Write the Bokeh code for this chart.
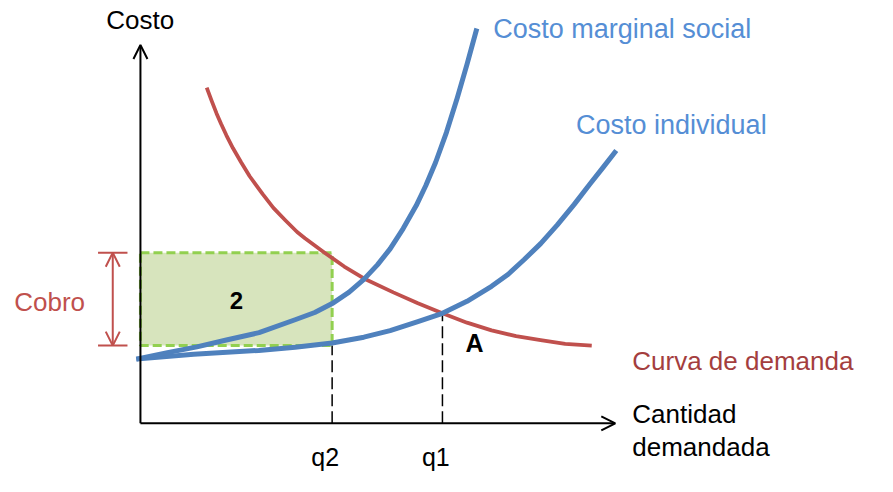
from bokeh.plotting import figure
from bokeh.models import Range1d, Arrow, OpenHead
from bokeh.core.properties import value
from bokeh.embed import file_html
from bokeh.resources import INLINE

# ---- data (units: 0..100 on each axis) ----
demand_q = [13.96, 15.00, 16.03, 17.00, 18.10, 19.50, 21.20, 23.00, 25.75, 28.00,
            30.51, 33.00, 34.64, 38.78, 42.92, 47.05, 53.26, 58.43, 63.60, 68.77,
            73.94, 79.11, 84.28, 89.45, 95.04]
demand_c = [88.75, 85.21, 81.92, 79.11, 76.12, 72.69, 68.99, 65.30, 60.57, 56.93,
            53.67, 50.56, 48.92, 45.10, 41.43, 38.29, 34.60, 31.71, 29.08, 26.60,
            24.55, 23.02, 21.99, 20.97, 20.54]

indiv_q = [-0.87, 11.21, 24.92, 32.57, 40.37, 47.05, 52.58, 58.43, 63.60, 68.77,
           73.94, 77.46, 80.77, 84.28, 87.80, 91.31, 94.62, 97.52, 100.21]
indiv_c = [16.96, 18.24, 19.26, 20.08, 21.23, 22.76, 24.50, 26.85, 29.08, 32.23,
           36.20, 39.39, 43.22, 47.50, 52.43, 57.80, 63.17, 67.77, 72.12]

social_q = [-0.87, 5.69, 11.89, 18.10, 24.98, 32.57, 36.71, 40.37, 43.95, 47.05,
            49.95, 52.58, 55.33, 58.08, 60.08, 62.15, 64.43, 66.70, 68.77, 70.84]
social_c = [16.96, 18.67, 20.20, 22.00, 23.96, 27.37, 29.28, 31.64, 34.65, 38.03,
            41.94, 46.11, 51.48, 57.54, 62.79, 68.93, 76.85, 85.93, 94.88, 104.35]

q2 = 40.37
q1 = 63.60
cost_q1 = 29.08
charge_low = 20.54
charge_high = 45.09
axis_max = 100

FONT = "Liberation Sans"
BLUE = "#4F81BD"
BLUE_TXT = "#558ED5"
RED = "#C0504D"
RED_TXT = "#A43E3E"

p = figure(width=877, height=476, output_backend="svg", toolbar_location=None,
           x_range=Range1d(-29.47, 155.22), y_range=Range1d(-14.07, 111.76),
           x_axis_type=None, y_axis_type=None, min_border=0,
           outline_line_color=None, background_fill_color="white",
           border_fill_color="white")
p.grid.visible = False

# shaded charge rectangle
p.quad(left=[0], right=[q2], bottom=[charge_low], top=[charge_high],
       fill_color="#D7E4BD", line_color="#92D050", line_width=3,
       line_dash="9 4")

# dashed quantity markers
p.segment(x0=[q2, q1], y0=[0, 0], x1=[q2, q1], y1=[charge_low, cost_q1],
          line_color="black", line_width=1.5, line_dash="12 5")

# curves
p.line(demand_q, demand_c, line_color=RED, line_width=3.8, line_join="round")
p.line(indiv_q, indiv_c, line_color=BLUE, line_width=5, line_join="round")
p.line(social_q, social_c, line_color=BLUE, line_width=5, line_join="round")

# axes with arrows
p.add_layout(Arrow(x_start=0, y_start=0, x_end=axis_max, y_end=0,
                   line_color="black", line_width=2,
                   end=OpenHead(size=14, line_color="black", line_width=2)))
p.add_layout(Arrow(x_start=0, y_start=0, x_end=0, y_end=axis_max,
                   line_color="black", line_width=2,
                   end=OpenHead(size=14, line_color="black", line_width=2)))

# charge ("Cobro") dimension arrow
cobro_x = -5.83
p.segment(x0=[-8.93, -8.93], y0=[charge_low, charge_high],
          x1=[-2.73, -2.73], y1=[charge_low, charge_high],
          line_color=RED, line_width=2)
p.add_layout(Arrow(x_start=cobro_x, y_start=charge_low, x_end=cobro_x, y_end=charge_high,
                   line_color=RED, line_width=2,
                   start=OpenHead(size=14, line_color=RED, line_width=2),
                   end=OpenHead(size=14, line_color=RED, line_width=2)))

# texts (baseline correction for the svg text rendering)
SHIFT = 2.5

def label(x, y, t, color, size="26px", align="left", style="normal"):
    p.text(x=[x], y=[y + SHIFT], text=[t], text_font=value(FONT), text_font_size=size,
           text_color=color, text_align=align, text_baseline="alphabetic",
           text_font_style=style)

label(-7.20, 104.09, "Costo", "black")
label(74.29, 101.71, "Costo marginal social", BLUE_TXT, size="27px")
label(91.73, 76.39, "Costo individual", BLUE_TXT, size="27px")
label(103.58, 13.89, "Curva de demanda", RED_TXT)
label(103.58, 0.08, "Cantidad", "black")
label(103.58, -8.70, "demandada", "black")
label(-19.13, 29.49, "Cobro", RED, align="center")
label(38.9, -11.5, "q2", "black", size="25px", align="center")
label(62.2, -11.5, "q1", "black", size="25px", align="center")
label(20.23, 29.92, "2", "black", size="24px", align="center", style="bold")
label(70.38, 18.85, "A", "black", size="25px", align="center", style="bold")

open("out.html", "w").write(file_html(p, INLINE))
